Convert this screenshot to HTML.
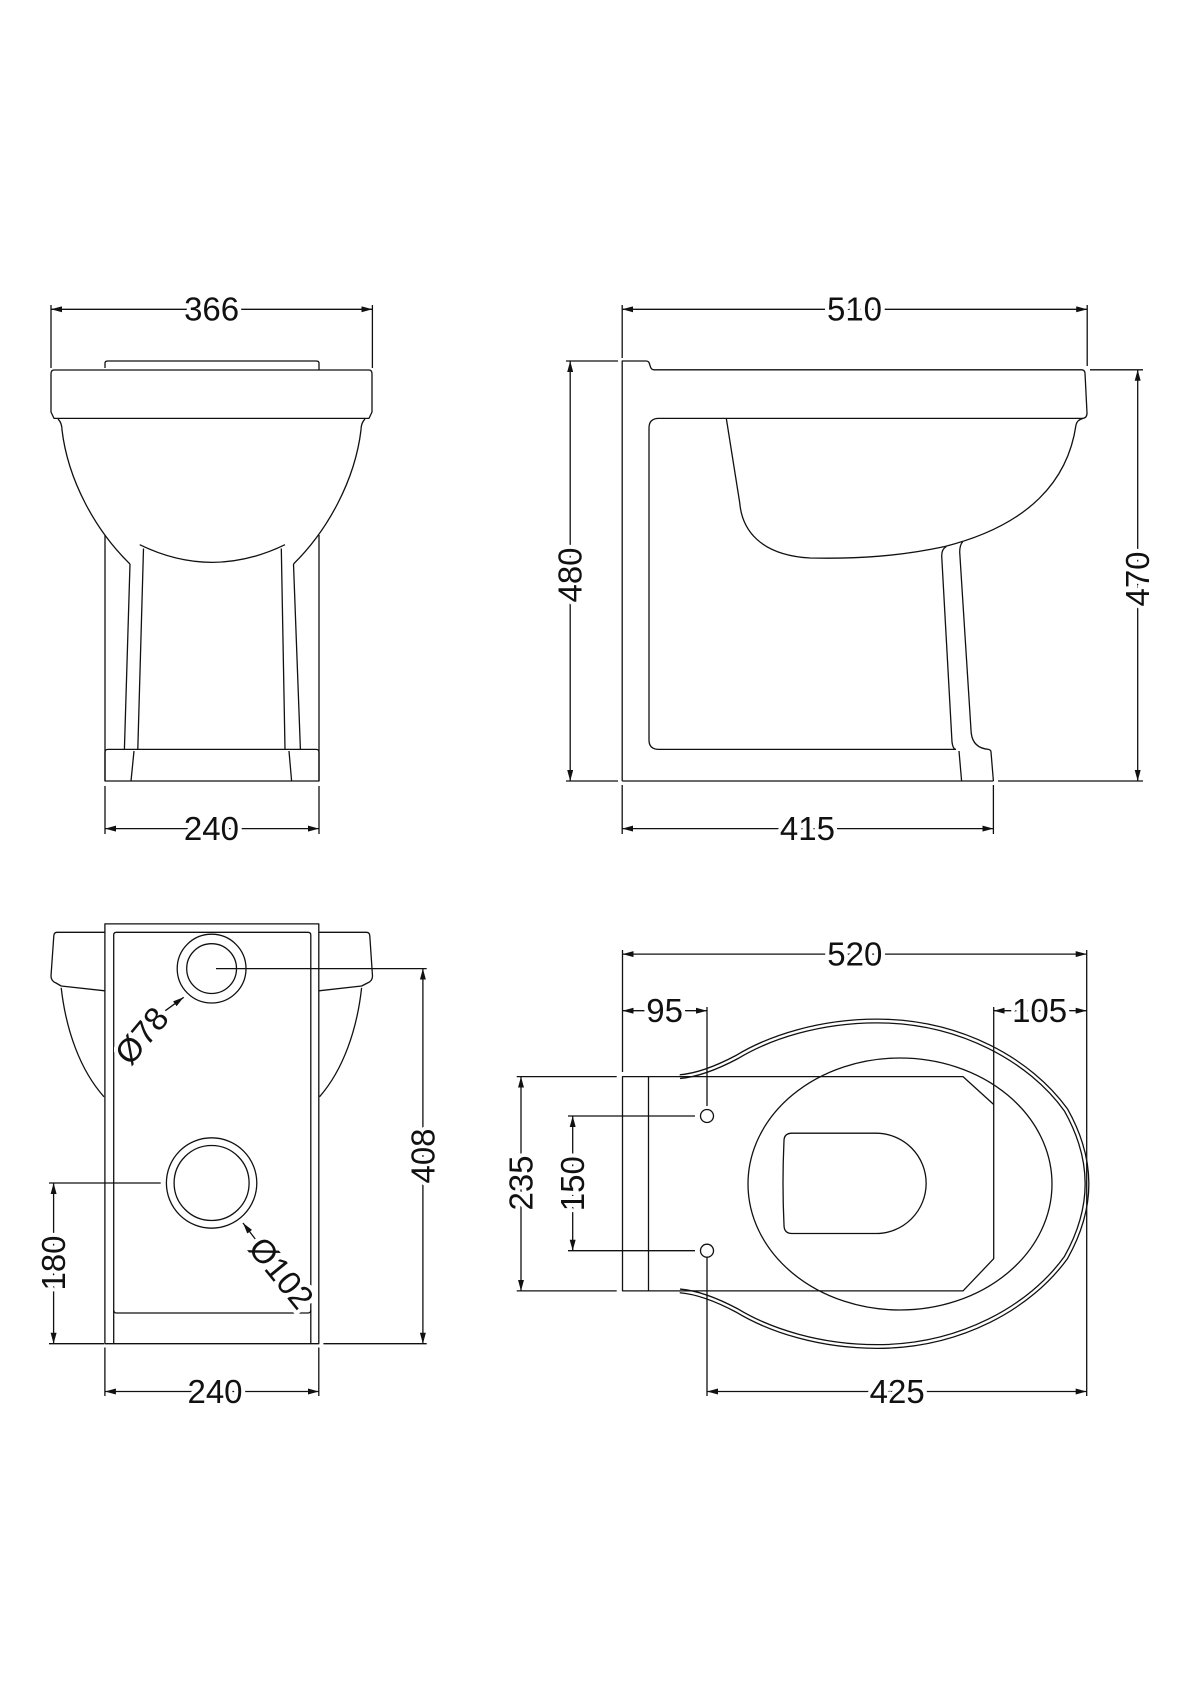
<!DOCTYPE html>
<html><head><meta charset="utf-8"><style>
html,body{margin:0;padding:0;background:#fff;}
svg{display:block;}
text{font-family:"Liberation Sans",sans-serif;font-size:33px;fill:#111;stroke:#fff;stroke-width:8px;paint-order:stroke;text-anchor:middle;dominant-baseline:central;}
</style></head><body>
<svg width="1200" height="1697" viewBox="0 0 1200 1697" xmlns="http://www.w3.org/2000/svg">
<defs>
<marker id="a" markerUnits="userSpaceOnUse" markerWidth="11" markerHeight="6" refX="11" refY="3" orient="auto-start-reverse"><path d="M0,0 L11,3 L0,6z" fill="#111"/></marker>
</defs>
<g fill="none" stroke="#111" stroke-width="1.3" stroke-linejoin="round">
<path d="M105,368 L105,363 Q105,361 108,361 L316,361 Q319,361 319,363 L319,370"/>
<path d="M54,370 L369,370 Q372,370 372,374 L372,412 L369,418.4 L54,418.4 L51,412 L51,374 Q51,370 54,370Z"/>
<path d="M58,419 Q62,423 62,430 C68,480 95,530 130,564"/>
<path d="M365,419 Q361,423 361,430 C355,480 328,530 293.5,564"/>
<path d="M139.7,544.7 Q212,580 285,544.7"/>
<path d="M130,564 L124.4,749.4 M143.5,548.5 L137.8,749.4 M281.3,548.5 L285,749.4 M293.5,564 L300.4,749.4"/>
<path d="M105,535 L105,781 M319,535 L319,781"/>
<path d="M105,781 L105,752 Q105,749.4 108,749.4 L316,749.4 Q319,749.4 319,752 L319,781 Z"/>
<path d="M134,751 L131,781 M289,751 L291.6,781"/>
<path d="M51,305 L51,368 M372.4,305 L372.4,368 M105,786 L105,834 M319,786 L319,834"/>
<line x1="51" y1="309.3" x2="372.4" y2="309.3" marker-start="url(#a)" marker-end="url(#a)"/>
<line x1="105" y1="828.6" x2="319" y2="828.6" marker-start="url(#a)" marker-end="url(#a)"/>
<path d="M566,361 L618,361 M566,781 L618,781"/>
<line x1="570.2" y1="361" x2="570.2" y2="781" marker-start="url(#a)" marker-end="url(#a)"/>

<path d="M622.2,781 L622.2,361 L646,361 Q649,361 649.5,364 L650.5,367 Q651.5,369.8 654,369.8 L1082,369.8 Q1084.5,370 1085,373 L1087,413 Q1087,418.4 1082,418.4 L659,418.4"/>
<path d="M1083,418.4 Q1077,420 1076,425 C1068,480 1030,525 944.4,546.6 C900,556 860,559 810,558 C760,555 742,530 739.7,502.6 L726.3,418.4"/>
<path d="M659,418.4 Q649,418.4 649,428 L649,740 Q649,749.4 659,749.4 L956,749.4"/>
<path d="M946.3,546.6 Q941.7,549 941.7,556 L952,742 Q953,749.4 956,749.4"/>
<path d="M962.8,541.6 Q959.7,545 959.7,552 L971.2,733 Q973,748 988.4,749.4 Q991,750 991,752 L993.4,781"/>
<path d="M959,751 L961.6,781"/>
<line x1="622.2" y1="781" x2="993.4" y2="781"/>
<path d="M622.2,305 L622.2,358 M1087.2,305 L1087.2,366 M622.2,785 L622.2,834 M993.4,785 L993.4,834"/>
<line x1="622.2" y1="309.3" x2="1087.2" y2="309.3" marker-start="url(#a)" marker-end="url(#a)"/>
<line x1="622.2" y1="828.6" x2="993.4" y2="828.6" marker-start="url(#a)" marker-end="url(#a)"/>
<path d="M1090,369.8 L1143,369.8 M998,781 L1143,781"/>
<line x1="1137.7" y1="369.8" x2="1137.7" y2="781" marker-start="url(#a)" marker-end="url(#a)"/>

<rect x="104.9" y="923.9" width="213.9" height="419.8"/>
<path d="M113.7,1343.7 L113.7,935 Q113.7,932.3 116.5,932.3 L308,932.3 Q310.8,932.3 310.8,935 L310.8,1343.7"/>
<path d="M113.7,1310 Q113.7,1313 116.5,1313 L308,1313 Q310.8,1313 310.8,1310"/>
<path d="M104.9,932.3 L57,932.3 Q54,932.3 53.8,936 L51,976 Q51,981 56,983 L61.2,986 L104.9,990.8"/>
<path d="M61.2,987.8 C66,1030 80,1070 104,1096.8"/>
<path d="M318.8,932.3 L366.6,932.3 Q369.6,932.3 369.8,936 L372.5,976 Q372.5,981 367.5,983 L361.6,986 L318.8,990.8"/>
<path d="M361.6,987.8 C357,1030 343,1070 319.5,1096.8"/>
<circle cx="211.6" cy="968.6" r="34.4"/>
<circle cx="211.6" cy="968.6" r="24.9"/>
<circle cx="211.6" cy="1183" r="45.2"/>
<circle cx="211.6" cy="1183" r="37.5"/>
<line x1="165.3" y1="1010.7" x2="183.7" y2="997.3" marker-end="url(#a)"/>
<line x1="256" y1="1240" x2="243" y2="1223" marker-end="url(#a)"/>
<path d="M216,968.6 L426.7,968.6 M323.4,1343.7 L426.7,1343.7 M49,1183 L160.7,1183 M49,1343.7 L104,1343.7"/>
<line x1="422.9" y1="968.6" x2="422.9" y2="1343.7" marker-start="url(#a)" marker-end="url(#a)"/>
<line x1="53.6" y1="1183" x2="53.6" y2="1343.7" marker-start="url(#a)" marker-end="url(#a)"/>
<path d="M104.9,1347.5 L104.9,1396 M318.8,1347.5 L318.8,1396"/>
<line x1="104.9" y1="1391.5" x2="318.8" y2="1391.5" marker-start="url(#a)" marker-end="url(#a)"/>

<path stroke-width="5" d="M679.9,1076.6 C700,1075 720,1066 737,1057 C770,1037 820,1021 877,1021 C960,1021 1030,1060 1066,1110 C1080,1135 1087,1160 1087,1183.75 C1087,1207.5 1080,1232.5 1066,1257.5 C1030,1307.5 960,1346.5 877,1346.5 C820,1346.5 770,1330.5 737,1310.5 C720,1301.5 700,1292.5 679.9,1290.9"/>
<path stroke="#fff" stroke-width="2.4" d="M679.9,1076.6 C700,1075 720,1066 737,1057 C770,1037 820,1021 877,1021 C960,1021 1030,1060 1066,1110 C1080,1135 1087,1160 1087,1183.75 C1087,1207.5 1080,1232.5 1066,1257.5 C1030,1307.5 960,1346.5 877,1346.5 C820,1346.5 770,1330.5 737,1310.5 C720,1301.5 700,1292.5 679.9,1290.9"/>
<ellipse cx="900" cy="1184" rx="152" ry="126"/>
<path d="M622.5,1076.6 L963,1076.6 L993.7,1104.5 L993.7,1258.7 L963,1290.9 L622.5,1290.9 Z"/>
<line x1="648.5" y1="1076.6" x2="648.5" y2="1290.9"/>
<path d="M792,1133.2 L876,1133.2 A50,50 0 0 1 876,1233.5 L792,1233.5 Q784,1233.5 784,1225 Q782,1183 784,1141 Q784,1133.2 792,1133.2 Z"/>
<circle cx="707" cy="1116" r="6.5"/>
<circle cx="707" cy="1250.7" r="6.5"/>
<path d="M622.5,950 L622.5,1072 M1086.7,950 L1086.7,1396 M707,1007 L707,1106 M993.7,1007 L993.7,1104.5 M707,1257.5 L707,1396"/>
<path d="M516.7,1076.6 L616.7,1076.6 M516.7,1290.9 L616.7,1290.9 M568,1116 L695,1116 M568,1250.7 L695,1250.7"/>
<line x1="622.5" y1="954.1" x2="1086.7" y2="954.1" marker-start="url(#a)" marker-end="url(#a)"/>
<line x1="622.5" y1="1010.7" x2="707" y2="1010.7" marker-start="url(#a)" marker-end="url(#a)"/>
<line x1="993.7" y1="1010.7" x2="1086.7" y2="1010.7" marker-start="url(#a)" marker-end="url(#a)"/>
<line x1="521" y1="1076.6" x2="521" y2="1290.9" marker-start="url(#a)" marker-end="url(#a)"/>
<line x1="572.7" y1="1116" x2="572.7" y2="1250.7" marker-start="url(#a)" marker-end="url(#a)"/>
<line x1="707" y1="1391.5" x2="1086.7" y2="1391.5" marker-start="url(#a)" marker-end="url(#a)"/>
</g>
<text x="211.6" y="309">366</text>
<text x="211.4" y="828.6">240</text>
<text transform="translate(570.2,575) rotate(-90)">480</text>
<text x="854.5" y="309">510</text>
<text x="807.4" y="828.6">415</text>
<text transform="translate(1137.7,579) rotate(-90)">470</text>
<text transform="translate(422.9,1156) rotate(-90)">408</text>
<text transform="translate(53.6,1263) rotate(-90)">180</text>
<text x="215" y="1391.5">240</text>
<text transform="translate(141.6,1035.6) rotate(-50)">Ø78</text>
<text transform="translate(281.3,1272.9) rotate(51)">Ø102</text>
<text x="854.8" y="954">520</text>
<text x="664.6" y="1010.7">95</text>
<text x="1039.6" y="1010.7">105</text>
<text transform="translate(521,1183) rotate(-90)">235</text>
<text transform="translate(572.7,1183.7) rotate(-90)">150</text>
<text x="897.2" y="1391.5">425</text>
</svg>
</body></html>
